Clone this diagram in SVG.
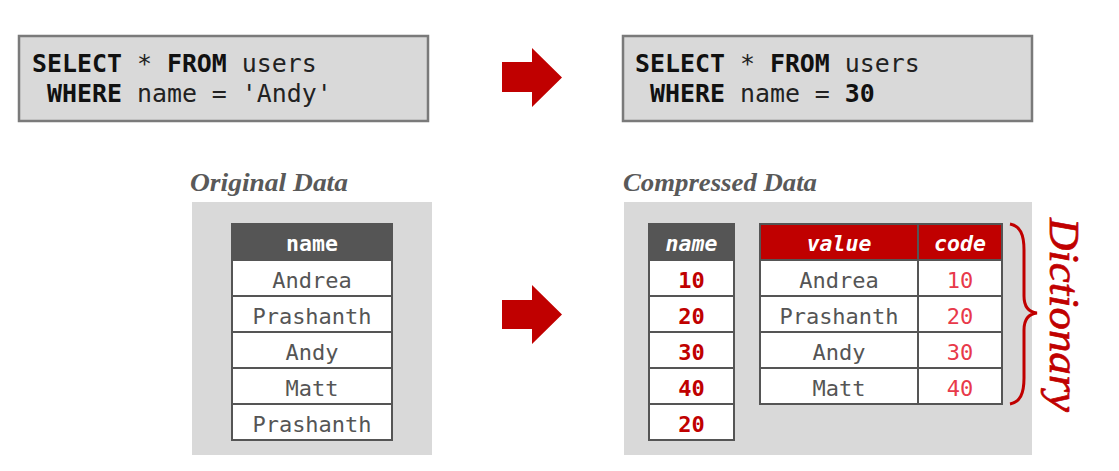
<svg xmlns="http://www.w3.org/2000/svg" width="1119" height="471" viewBox="0 0 1119 471">
<style>
.bg{fill:#ffffff}
.sql{fill:#d9d9d9;stroke:#7a7a7a;stroke-width:2.5}
.code{font-family:"DejaVu Sans Mono","Liberation Mono",monospace;font-size:24.9px;fill:#222}
.b{font-weight:bold;fill:#111}
.panel{fill:#d9d9d9}
.lbl{font-family:"Liberation Serif","DejaVu Serif",serif;font-style:italic;font-weight:bold;font-size:26px;fill:#595959}
.cell{fill:#ffffff;stroke:#555555;stroke-width:2}
.hdr{fill:#555555;stroke:#555555;stroke-width:2}
.hdrr{fill:#c00000;stroke:#555555;stroke-width:2}
.ht{font-family:"DejaVu Sans Mono","Liberation Mono",monospace;font-size:21.5px;font-weight:bold;fill:#ffffff;text-anchor:middle}
.it{font-style:italic}
.ct{font-family:"DejaVu Sans Mono","Liberation Mono",monospace;font-size:22px;fill:#555555;text-anchor:middle}
.num{font-weight:bold;fill:#c00000}
.cd{fill:#e8394a}
.arrow{fill:#c00000}
</style>
<rect class="bg" x="0" y="0" width="1119" height="471"/>

<g id="query-original">
<rect class="sql" x="19" y="36" width="409" height="85"/>
<text class="code" x="32" y="72"><tspan class="b">SELECT</tspan> * <tspan class="b">FROM</tspan> users</text>
<text class="code" x="32" y="102" xml:space="preserve"> <tspan class="b">WHERE</tspan> name = 'Andy'</text>
</g>

<g id="query-compressed">
<rect class="sql" x="623" y="36" width="409" height="85"/>
<text class="code" x="635" y="72"><tspan class="b">SELECT</tspan> * <tspan class="b">FROM</tspan> users</text>
<text class="code" x="635" y="102" xml:space="preserve"> <tspan class="b">WHERE</tspan> name = <tspan class="b">30</tspan></text>
</g>

<g id="connectors">
<path class="arrow" d="M502,62 H532 V48 L562,77.5 L532,107 V92 H502 Z"/>
<path class="arrow" d="M502,300 H532 V285 L562,314.5 L532,344 V329 H502 Z"/>
</g>

<g id="original-data">
<text class="lbl" x="190" y="191" textLength="158" lengthAdjust="spacingAndGlyphs">Original Data</text>
<rect class="panel" x="192" y="202" width="240" height="253"/>
<rect class="hdr" x="232" y="224" width="160" height="36"/>
<text class="ht" x="312" y="251">name</text>
<rect class="cell" x="232" y="260" width="160" height="36"/>
<rect class="cell" x="232" y="296" width="160" height="36"/>
<rect class="cell" x="232" y="332" width="160" height="36"/>
<rect class="cell" x="232" y="368" width="160" height="36"/>
<rect class="cell" x="232" y="404" width="160" height="36"/>
<text class="ct" x="312" y="288">Andrea</text>
<text class="ct" x="312" y="324">Prashanth</text>
<text class="ct" x="312" y="360">Andy</text>
<text class="ct" x="312" y="396">Matt</text>
<text class="ct" x="312" y="432">Prashanth</text>
</g>

<g id="compressed-data">
<text class="lbl" x="623" y="191" textLength="194" lengthAdjust="spacingAndGlyphs">Compressed Data</text>
<rect class="panel" x="624" y="202" width="408" height="253"/>
<g id="encoded-column">
<rect class="hdr" x="649" y="224" width="85" height="36"/>
<text class="ht it" x="691.5" y="251">name</text>
<rect class="cell" x="649" y="260" width="85" height="36"/>
<rect class="cell" x="649" y="296" width="85" height="36"/>
<rect class="cell" x="649" y="332" width="85" height="36"/>
<rect class="cell" x="649" y="368" width="85" height="36"/>
<rect class="cell" x="649" y="404" width="85" height="36"/>
<text class="ct num" x="691.5" y="288">10</text>
<text class="ct num" x="691.5" y="324">20</text>
<text class="ct num" x="691.5" y="360">30</text>
<text class="ct num" x="691.5" y="396">40</text>
<text class="ct num" x="691.5" y="432">20</text>
</g>
<g id="dictionary-table">
<rect class="hdrr" x="760" y="224" width="158" height="36"/>
<rect class="hdrr" x="918" y="224" width="84" height="36"/>
<text class="ht it" x="839" y="251">value</text>
<text class="ht it" x="960" y="251">code</text>
<rect class="cell" x="760" y="260" width="158" height="36"/>
<rect class="cell" x="918" y="260" width="84" height="36"/>
<rect class="cell" x="760" y="296" width="158" height="36"/>
<rect class="cell" x="918" y="296" width="84" height="36"/>
<rect class="cell" x="760" y="332" width="158" height="36"/>
<rect class="cell" x="918" y="332" width="84" height="36"/>
<rect class="cell" x="760" y="368" width="158" height="36"/>
<rect class="cell" x="918" y="368" width="84" height="36"/>
<text class="ct" x="839" y="288">Andrea</text>
<text class="ct" x="839" y="324">Prashanth</text>
<text class="ct" x="839" y="360">Andy</text>
<text class="ct" x="839" y="396">Matt</text>
<text class="ct cd" x="960" y="288">10</text>
<text class="ct cd" x="960" y="324">20</text>
<text class="ct cd" x="960" y="360">30</text>
<text class="ct cd" x="960" y="396">40</text>
</g>
</g>

<g id="dictionary-label">
<path d="M1010,224 C1020,226 1024,234 1024,250 V296 C1024,306 1028,312 1037,313 C1028,314 1024,320 1024,330 V378 C1024,394 1020,402 1010,404" fill="none" stroke="#c00000" stroke-width="3"/>
<text transform="translate(1050,218) rotate(90)" x="0" y="0" font-family="'Liberation Serif','DejaVu Serif',serif" font-style="italic" font-size="43" fill="#c00000" stroke="#c00000" stroke-width="0.7" textLength="194" lengthAdjust="spacingAndGlyphs">Dictionary</text>
</g>
</svg>
